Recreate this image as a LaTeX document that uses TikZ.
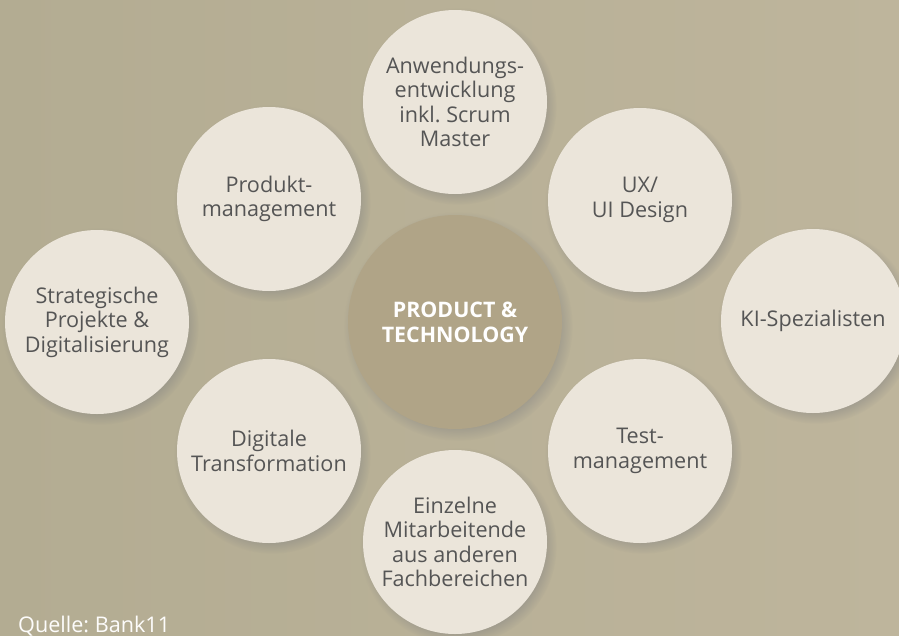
\documentclass[tikz,border=0pt]{standalone}
\usepackage{fontspec}
\setmainfont{Open Sans}
\frenchspacing
\usetikzlibrary{shadows}

\definecolor{bgleft}{HTML}{B3AC92}
\definecolor{bgright}{HTML}{BEB59C}
\definecolor{cream}{HTML}{EBE5DA}
\definecolor{hubfill}{HTML}{B0A487}
\definecolor{ink}{HTML}{555555}

\tikzset{
  bubble/.style={circle,fill=cream,minimum size=184pt,inner sep=0pt,align=center,
    text=ink,font=\fontsize{21.6}{24.5}\selectfont,
    circular drop shadow={shadow xshift=3pt,shadow yshift=-4pt,shadow scale=1.07,opacity=.5}},
  hubbubble/.style={bubble,fill=hubfill,minimum size=214pt,text=white,
    font=\fontsize{21.4}{25}\selectfont\bfseries}
}

\begin{document}
\begin{tikzpicture}[x=1pt,y=-1pt]

  \shade[left color=bgleft,right color=bgright] (0,0) rectangle (899,635);
  \useasboundingbox (0,0) rectangle (899,635);

  \node[hubbubble] (hub) at (455,322) {PRODUCT \&\\TECHNOLOGY};

  \begin{scope}[every node/.style=bubble]
    \node (anw) at (455,102) {Anwendungs-\\entwicklung\\inkl. Scrum\\Master};
    \node (prod) at (269,199) {Produkt-\\management};
    \node (ux) at (640,200) {UX/\\UI Design};
    \node (strat) at (97,322) {Strategische\\Projekte \&\\Digitalisierung};
    \node (ki) at (813,321) {KI-Spezialisten};
    \node (dig) at (269,451) {Digitale\\Transformation};
    \node (test) at (640,451) {Test-\\management};
    \node (einz) at (455,542) {Einzelne\\Mitarbeitende\\aus anderen\\Fachbereichen};
  \end{scope}

  \node[anchor=base west,inner sep=0pt,text=white!90!cream,
    font=\fontsize{21.6}{24.5}\selectfont] (src) at (18,632) {Quelle: Bank11};

\end{tikzpicture}
\end{document}
